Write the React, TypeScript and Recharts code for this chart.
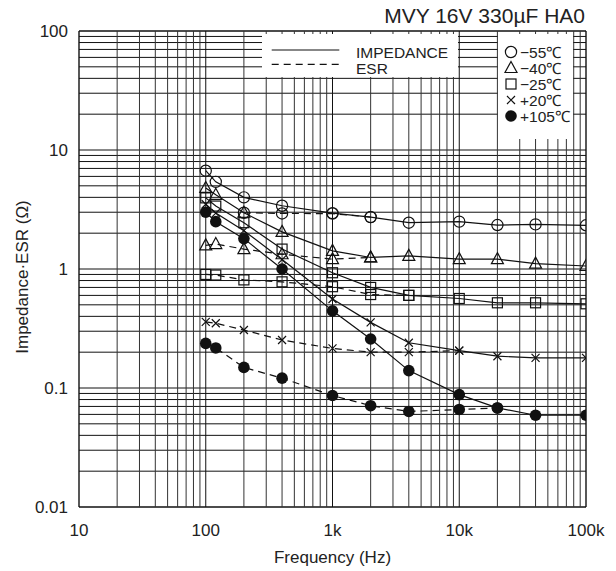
import React from 'react';
import { LineChart, Line, XAxis, YAxis, ReferenceLine, Label } from 'recharts';

// Frequencies (Hz) where the curves were measured
const freqs = [100, 120, 200, 400, 1000, 2000, 4000, 10000, 20000, 40000, 100000];

// Impedance (solid) and ESR (dashed), in ohms, per temperature
const zM55 = [6.7, 5.4, 4.0, 3.4, 2.95, 2.73, 2.45, 2.5, 2.34, 2.37, 2.33];
const esrM55 = [null, null, 2.97, 2.93, 2.92, 2.73, null, null, null, null, null];
const zM40 = [4.8, 4.2, 2.97, 2.05, 1.42, 1.25, 1.29, 1.21, 1.21, 1.11, 1.06];
const esrM40 = [1.58, 1.62, 1.47, 1.33, 1.21, 1.25, null, null, null, null, null];
const zM25 = [3.96, 3.38, 2.45, 1.47, 0.93, 0.7, 0.6, 0.565, 0.52, 0.52, 0.51];
const esrM25 = [0.9, 0.89, 0.81, 0.78, 0.71, 0.61, 0.6, null, null, null, null];
const zP20 = [3.5, 2.95, 2.1, 1.2, 0.56, 0.356, 0.24, 0.206, 0.185, 0.179, 0.179];
const esrP20 = [0.36, 0.35, 0.307, 0.253, 0.215, 0.2, 0.2, 0.206, null, null, null];
const zP105 = [3.0, 2.5, 1.8, 1.0, 0.445, 0.258, 0.14, 0.088, 0.068, 0.059, 0.059];
const esrP105 = [0.237, 0.217, 0.149, 0.121, 0.0865, 0.071, 0.0635, 0.066, 0.068, null, null];

const xTicks = [10, 100, 1000, 10000, 100000];
const xTickLabels = ['10', '100', '1k', '10k', '100k'];
const yTicks = [0.01, 0.1, 1, 10, 100];
const yTickLabels = ['0.01', '0.1', '1', '10', '100'];

const title = 'MVY 16V 330µF HA0';
const tempLabels = ['−55℃', '−40℃', '−25℃', '+20℃', '+105℃'];

type Shape = 'circle' | 'triangle' | 'square' | 'cross' | 'disc';

const series: { key: string; values: (number | null)[]; shape: Shape; dashed: boolean }[] = [
  { key: 'zM55', values: zM55, shape: 'circle', dashed: false },
  { key: 'esrM55', values: esrM55, shape: 'circle', dashed: true },
  { key: 'zM40', values: zM40, shape: 'triangle', dashed: false },
  { key: 'esrM40', values: esrM40, shape: 'triangle', dashed: true },
  { key: 'zM25', values: zM25, shape: 'square', dashed: false },
  { key: 'esrM25', values: esrM25, shape: 'square', dashed: true },
  { key: 'zP20', values: zP20, shape: 'cross', dashed: false },
  { key: 'esrP20', values: esrP20, shape: 'cross', dashed: true },
  { key: 'zP105', values: zP105, shape: 'disc', dashed: false },
  { key: 'esrP105', values: esrP105, shape: 'disc', dashed: true },
];

const chartData = freqs.map((f, i) => {
  const row: Record<string, number | null> = { f };
  series.forEach(s => {
    row[s.key] = s.values[i];
  });
  return row;
});

// log grid lines: 1..9 in every decade
const decadeLines = (start: number, decades: number) => {
  const out: { v: number; major: boolean }[] = [];
  for (let d = 0; d < decades; d++) {
    const base = start * Math.pow(10, d);
    for (let m = 1; m <= 9; m++) out.push({ v: base * m, major: m === 1 });
  }
  out.push({ v: start * Math.pow(10, decades), major: true });
  return out;
};
const xGrid = decadeLines(10, 4);
const yGrid = decadeLines(0.01, 4);

const INK = '#111';
const FONT = '"Liberation Sans", Arial, Helvetica, sans-serif';

const Marker = ({ shape, cx, cy }: { shape: Shape; cx: number; cy: number }) => {
  switch (shape) {
    case 'circle':
      return <circle cx={cx} cy={cy} r={5.6} fill="none" stroke={INK} strokeWidth={1.2} />;
    case 'triangle':
      return (
        <path
          d={`M${cx},${cy - 6.5} L${cx + 6},${cy + 4.5} L${cx - 6},${cy + 4.5} Z`}
          fill="none"
          stroke={INK}
          strokeWidth={1.2}
        />
      );
    case 'square':
      return <rect x={cx - 5} y={cy - 5} width={10} height={10} fill="none" stroke={INK} strokeWidth={1.2} />;
    case 'cross':
      return (
        <path
          d={`M${cx - 4},${cy - 4} L${cx + 4},${cy + 4} M${cx - 4},${cy + 4} L${cx + 4},${cy - 4}`}
          stroke={INK}
          strokeWidth={1.2}
        />
      );
    default:
      return <circle cx={cx} cy={cy} r={5.8} fill={INK} />;
  }
};

const makeDot = (shape: Shape, name: string) => (props: any) => {
  const { cx, cy, value, index } = props;
  if (cx == null || cy == null || value == null || Number.isNaN(cy)) return <g key={`${name}-${index}`} />;
  return (
    <g key={`${name}-${index}`}>
      <Marker shape={shape} cx={cx} cy={cy} />
    </g>
  );
};

export default function App() {
  return (
    <div style={{ position: 'relative', width: 600, height: 563, fontFamily: FONT, color: '#222' }}>
      <LineChart
        width={600}
        height={563}
        data={chartData}
        margin={{ top: 23, right: 22, left: 11, bottom: 24 }}
      >
        {yGrid.map(g => (
          <ReferenceLine
            key={`h${g.v}`}
            y={g.v}
            stroke={INK}
            strokeWidth={g.v === 0.01 || g.v === 100 ? 1.4 : 1}
          />
        ))}
        {xGrid.map(g => (
          <ReferenceLine
            key={`v${g.v}`}
            x={g.v}
            stroke={g.major ? INK : '#333'}
            strokeWidth={g.v === 10 || g.v === 100000 ? 1.4 : 1}
          />
        ))}
        <XAxis
          dataKey="f"
          type="number"
          scale="log"
          domain={[10, 100000]}
          allowDataOverflow
          ticks={xTicks}
          interval={0}
          tickFormatter={(v: number) => xTickLabels[xTicks.indexOf(v)] ?? ''}
          axisLine={false}
          tickLine={false}
          tickSize={0}
          tickMargin={17}
          height={40}
          tick={{ fontSize: 17, fill: '#222', fontFamily: FONT }}
        >
          <Label
            content={(p: any) => {
              const vb = p.viewBox || { x: 71, y: 499, width: 507 };
              return (
                <text
                  x={vb.x + vb.width / 2}
                  y={555}
                  textAnchor="middle"
                  fontSize={17}
                  fill="#222"
                  fontFamily={FONT}
                >
                  Frequency (Hz)
                </text>
              );
            }}
          />
        </XAxis>
        <YAxis
          type="number"
          scale="log"
          domain={[0.01, 100]}
          allowDataOverflow
          ticks={yTicks}
          interval={0}
          tickFormatter={(v: number) => yTickLabels[yTicks.indexOf(v)] ?? ''}
          axisLine={false}
          tickLine={false}
          tickSize={0}
          tickMargin={11}
          width={60}
          tick={{ fontSize: 17, fill: '#222', fontFamily: FONT }}
        >
          <Label
            content={() => (
              <text
                transform="translate(14,269) rotate(-90)"
                textAnchor="middle"
                dominantBaseline="central"
                fontSize={17}
                fill="#222"
                fontFamily={FONT}
              >
                Impedance·ESR (Ω)
              </text>
            )}
          />
        </YAxis>
        {series.map(s => (
          <Line
            key={s.key}
            dataKey={s.key}
            type="linear"
            stroke={INK}
            strokeWidth={1.2}
            strokeDasharray={s.dashed ? '7 5' : undefined}
            dot={makeDot(s.shape, s.key)}
            activeDot={false}
            isAnimationActive={false}
            connectNulls={false}
          />
        ))}
      </LineChart>

      {/* title */}
      <div
        style={{
          position: 'absolute',
          right: 23,
          top: -3.5,
          fontSize: 21,
          lineHeight: '21px',
          whiteSpace: 'nowrap',
        }}
      >
        {title}
      </div>

      {/* line-style legend */}
      <div
        style={{
          position: 'absolute',
          left: 254,
          top: 26,
          width: 196,
          height: 43,
          background: '#fff',
        }}
      >
        <svg width={196} height={43} style={{ position: 'absolute', left: 0, top: 0 }}>
          <line x1={9.7} x2={77.3} y1={16} y2={16} stroke={INK} strokeWidth={1.2} />
          <line x1={9.7} x2={77.3} y1={30.3} y2={30.3} stroke={INK} strokeWidth={1.2} strokeDasharray="7 5" />
        </svg>
        <div style={{ position: 'absolute', left: 94, top: 10.7, fontSize: 15.5, lineHeight: '15px' }}>IMPEDANCE</div>
        <div style={{ position: 'absolute', left: 94, top: 27.4, fontSize: 15.5, lineHeight: '15px' }}>ESR</div>
      </div>

      {/* temperature legend */}
      <div
        style={{
          position: 'absolute',
          left: 490,
          top: 26,
          width: 75,
          height: 105,
          background: '#fff',
        }}
      >
        <svg width={75} height={105} style={{ position: 'absolute', left: 0, top: 0 }}>
          {(['circle', 'triangle', 'square', 'cross', 'disc'] as Shape[]).map((sh, i) => (
            <Marker key={sh} shape={sh} cx={13} cy={18 + i * 16} />
          ))}
        </svg>
        {tempLabels.map((t, i) => (
          <div
            key={t}
            style={{
              position: 'absolute',
              left: 22,
              top: 18 + i * 16 - 7.5,
              fontSize: 15.5,
              lineHeight: '15px',
              whiteSpace: 'nowrap',
            }}
          >
            {t}
          </div>
        ))}
      </div>
    </div>
  );
}
